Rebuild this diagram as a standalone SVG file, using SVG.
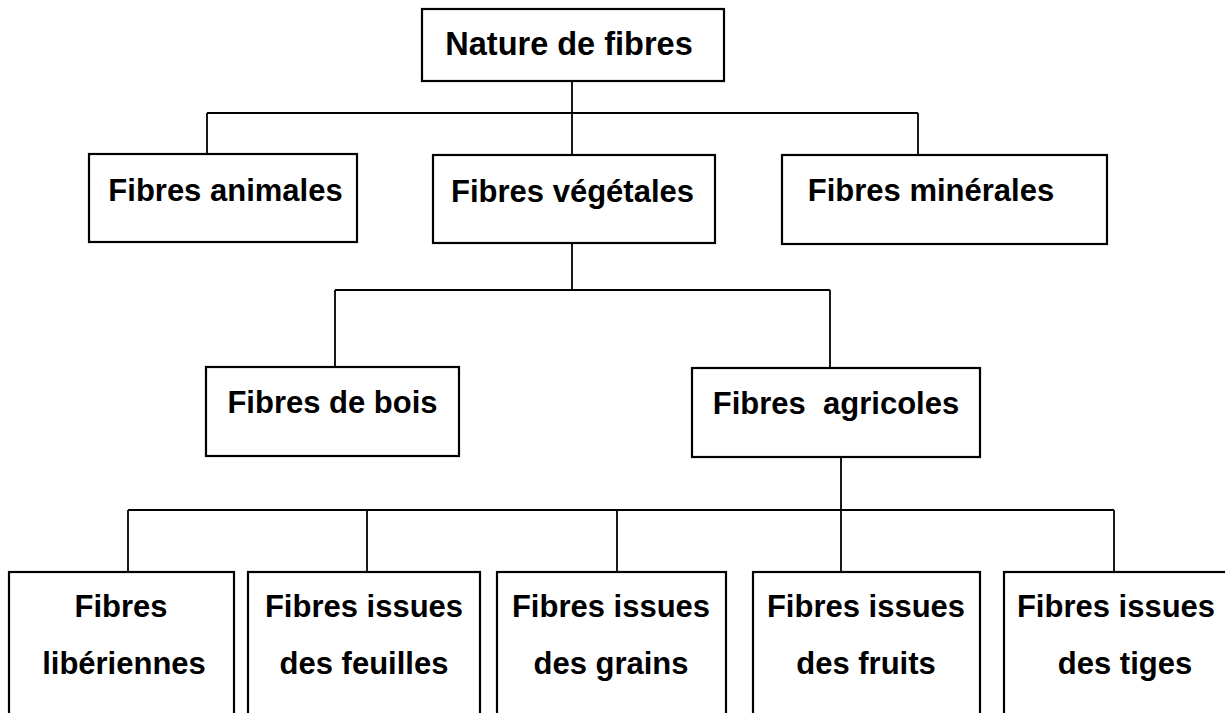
<svg xmlns="http://www.w3.org/2000/svg" width="1225" height="713" viewBox="0 0 1225 713">
<style>
.box{fill:#fff;stroke:#000;stroke-width:2.2}
.t{font-family:"Liberation Sans",Arial,sans-serif;font-weight:bold;font-size:31px;fill:#000;text-anchor:middle;white-space:pre}
.c{fill:none;stroke:#000;stroke-width:1.8}
</style>
<rect width="1225" height="713" fill="#fff"/>
<g id="connectors">
<path class="c" d="M572,81 V155 M207,113 H918 M207,113 V154 M918,113 V155"/>
<path class="c" d="M572,243 V290 M335,290 H830 M335,290 V367 M830,290 V368"/>
<path class="c" d="M841,453 V572 M128,510 H1114 M128,510 V572 M367,510 V572 M617,510 V572 M1114,510 V572"/>
</g>
<g id="n-nature"><rect class="box" x="422" y="9" width="302" height="72"/><text class="t" x="569" y="55" style="font-size:32.5px">Nature de fibres</text></g>
<g id="n-animales"><rect class="box" x="89" y="154" width="268" height="88"/><text class="t" x="225.5" y="201">Fibres animales</text></g>
<g id="n-vegetales"><rect class="box" x="433" y="155" width="282" height="88"/><text class="t" x="572.5" y="202">Fibres végétales</text></g>
<g id="n-minerales"><rect class="box" x="782" y="155" width="325" height="89"/><text class="t" x="931" y="201">Fibres minérales</text></g>
<g id="n-bois"><rect class="box" x="206" y="367" width="253" height="89"/><text class="t" x="332.5" y="413">Fibres de bois</text></g>
<g id="n-agricoles"><rect class="box" x="692" y="368" width="288" height="89"/><text class="t" x="836" y="414" xml:space="preserve">Fibres  agricoles</text></g>
<g id="n-liberiennes"><rect class="box" x="9" y="572" width="225" height="160"/><text class="t" x="121" y="617">Fibres</text><text class="t" x="124" y="674">libériennes</text></g>
<g id="n-feuilles"><rect class="box" x="248" y="572" width="232" height="160"/><text class="t" x="364" y="617">Fibres issues</text><text class="t" x="364" y="674">des feuilles</text></g>
<g id="n-grains"><rect class="box" x="497" y="572" width="229" height="160"/><text class="t" x="611" y="617">Fibres issues</text><text class="t" x="611" y="674">des grains</text></g>
<g id="n-fruits"><rect class="box" x="753" y="572" width="227" height="160"/><text class="t" x="866" y="617">Fibres issues</text><text class="t" x="866" y="674">des fruits</text></g>
<g id="n-tiges"><rect class="box" x="1004" y="572" width="240" height="160"/><text class="t" x="1116" y="617">Fibres issues</text><text class="t" x="1125" y="674">des tiges</text></g>
</svg>
